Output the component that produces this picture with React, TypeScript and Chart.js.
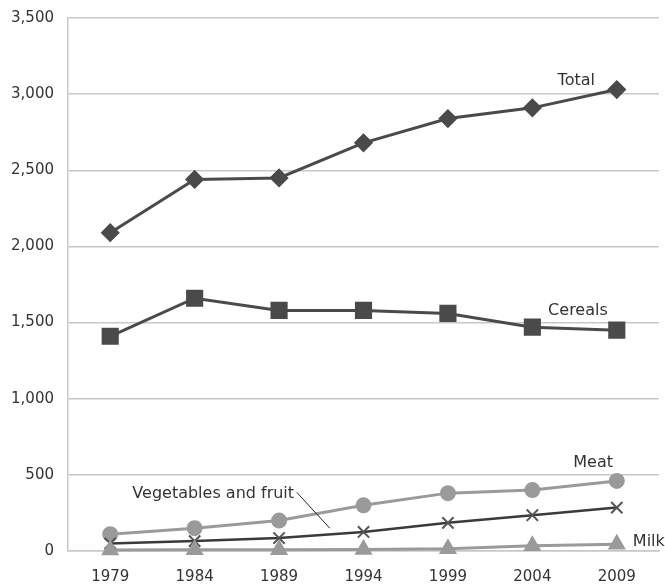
import React, { useEffect, useRef } from "react";
import { Chart, registerables } from "chart.js";

Chart.register(...registerables);

const years = ["1979", "1984", "1989", "1994", "1999", "2004", "2009"];
const total = [2090, 2440, 2450, 2680, 2840, 2910, 3030];
const cereals = [1410, 1660, 1580, 1580, 1560, 1470, 1450];
const meat = [110, 150, 200, 300, 380, 400, 460];
const vegFruit = [50, 65, 85, 125, 185, 235, 285];
const milk = [7, 8, 8, 10, 15, 35, 45];
const yTicks = [0, 500, 1000, 1500, 2000, 2500, 3000, 3500];

const FONT = "'DejaVu Sans', 'Liberation Sans', Arial, sans-serif";

// series name labels, placed in data space (category index, value)
const seriesLabels = [
  { text: "Total", x: 5.52, y: 3090, align: "center" as CanvasTextAlign },
  { text: "Cereals", x: 5.54, y: 1580, align: "center" as CanvasTextAlign },
  { text: "Meat", x: 5.72, y: 580, align: "center" as CanvasTextAlign },
  { text: "Vegetables and fruit", x: 1.22, y: 375, align: "center" as CanvasTextAlign },
  { text: "Milk", x: 6.19, y: 60, align: "left" as CanvasTextAlign },
];
const leader = { x1: 2.21, y1: 385, x2: 2.6, y2: 150 };

const labelPlugin = {
  id: "seriesLabels",
  afterDatasetsDraw(chart: any) {
    const { ctx, scales } = chart;
    const xs = scales.x;
    const ys = scales.y;
    ctx.save();
    ctx.fillStyle = "#333";
    ctx.font = `16px ${FONT}`;
    ctx.textBaseline = "middle";
    for (const l of seriesLabels) {
      ctx.textAlign = l.align;
      ctx.fillText(l.text, xs.getPixelForValue(l.x), ys.getPixelForValue(l.y));
    }
    ctx.strokeStyle = "#222";
    ctx.lineWidth = 1;
    ctx.beginPath();
    ctx.moveTo(xs.getPixelForValue(leader.x1), ys.getPixelForValue(leader.y1));
    ctx.lineTo(xs.getPixelForValue(leader.x2), ys.getPixelForValue(leader.y2));
    ctx.stroke();
    ctx.restore();
  },
};

export default function App() {
  const ref = useRef<HTMLCanvasElement | null>(null);
  useEffect(() => {
    if (!ref.current) return;
    const chart = new Chart(ref.current, {
      type: "line",
      data: {
        labels: years,
        datasets: [
          {
            label: "Milk",
            data: milk,
            borderColor: "#9a9a9a",
            backgroundColor: "#9a9a9a",
            pointBackgroundColor: "#9a9a9a",
            pointBorderColor: "#9a9a9a",
            borderWidth: 3,
            pointStyle: "triangle",
            pointRadius: 7.5,
            clip: false,
          },
          {
            label: "Vegetables and fruit",
            data: vegFruit,
            borderColor: "#3a3a3a",
            backgroundColor: "#555",
            pointBorderColor: "#555",
            borderWidth: 2.5,
            pointBorderWidth: 2,
            pointStyle: "crossRot",
            pointRadius: 8,
            clip: false,
          },
          {
            label: "Meat",
            data: meat,
            borderColor: "#9a9a9a",
            backgroundColor: "#9a9a9a",
            pointBackgroundColor: "#9a9a9a",
            pointBorderColor: "#9a9a9a",
            borderWidth: 3,
            pointStyle: "circle",
            pointRadius: 6.5,
            clip: false,
          },
          {
            label: "Cereals",
            data: cereals,
            borderColor: "#4a4a4a",
            backgroundColor: "#4a4a4a",
            pointBackgroundColor: "#4a4a4a",
            pointBorderColor: "#4a4a4a",
            borderWidth: 3,
            pointStyle: "rect",
            pointRadius: 10,
            clip: false,
          },
          {
            label: "Total",
            data: total,
            borderColor: "#4a4a4a",
            backgroundColor: "#4a4a4a",
            pointBackgroundColor: "#4a4a4a",
            pointBorderColor: "#4a4a4a",
            borderWidth: 3,
            pointStyle: "rectRot",
            pointRadius: 7.5,
            clip: false,
          },
        ],
      },
      options: {
        animation: false,
        responsive: false,
        layout: { autoPadding: false, padding: { top: 18, right: 6, bottom: 0, left: 0 } },
        plugins: { legend: { display: false }, tooltip: { enabled: false } },
        elements: { line: { tension: 0 } },
        scales: {
          x: {
            offset: true,
            grid: { display: false, drawTicks: false },
            border: { display: true, color: "#c8c8c8", width: 1.5 },
            ticks: {
              color: "#333",
              font: { family: FONT, size: 15 },
              padding: 17,
              maxRotation: 0,
            },
            afterFit: (s: any) => {
              s.height = 33;
              s.paddingLeft = 0;
              s.paddingRight = 0;
            },
          },
          y: {
            min: 0,
            max: 3500,
            afterBuildTicks: (s: any) => {
              s.ticks = yTicks.map((v) => ({ value: v }));
            },
            grid: { color: "#c8c8c8", lineWidth: 1.5, drawTicks: false },
            border: { display: true, color: "#c8c8c8", width: 1.5 },
            ticks: {
              color: "#333",
              font: { family: FONT, size: 15 },
              padding: 14,
              callback: (v: any) => Number(v).toLocaleString("en-US"),
            },
            afterFit: (s: any) => {
              s.width = 68;
              s.paddingTop = 0;
              s.paddingBottom = 0;
            },
          },
        },
      },
      plugins: [labelPlugin],
    });
    return () => chart.destroy();
  }, []);
  return (
    <div style={{ position: "absolute", left: 0, top: 0, width: 665, height: 584, background: "#fff" }}>
      <canvas ref={ref} width={665} height={584} style={{ display: "block" }} />
    </div>
  );
}
